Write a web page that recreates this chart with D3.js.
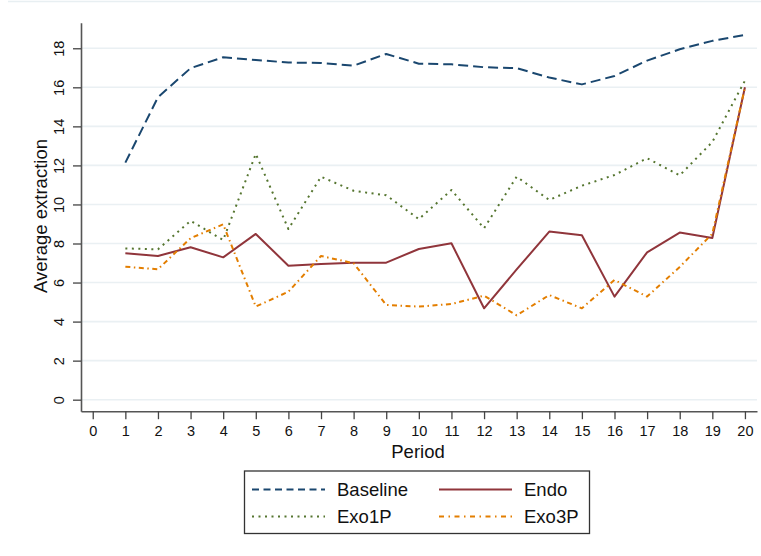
<!DOCTYPE html>
<html>
<head>
<meta charset="utf-8">
<script src="https://cdn.jsdelivr.net/npm/d3@7"></script>
<style>
  html, body { margin: 0; padding: 0; background: #fff; }
  svg { display: block; font-family: "Liberation Sans", Arial, sans-serif; }
</style>
</head>
<body>
<svg id="chart" width="761" height="556"></svg>
<script>
const periods = [1,2,3,4,5,6,7,8,9,10,11,12,13,14,15,16,17,18,19,20];
const baseline = [12.14, 15.49, 16.98, 17.54, 17.40, 17.27, 17.25, 17.11, 17.71, 17.21, 17.18, 17.03, 16.98, 16.50, 16.15, 16.58, 17.37, 17.95, 18.38, 18.68];
const endo     = [7.50, 7.36, 7.81, 7.29, 8.49, 6.86, 6.95, 7.02, 7.02, 7.72, 8.01, 4.68, 6.67, 8.61, 8.42, 5.28, 7.55, 8.56, 8.28, 16.00];
const exo1p    = [7.75, 7.70, 9.16, 8.18, 12.59, 8.74, 11.42, 10.70, 10.47, 9.25, 10.74, 8.78, 11.42, 10.23, 10.96, 11.51, 12.37, 11.49, 13.20, 16.34];
const exo3p    = [6.81, 6.68, 8.27, 8.98, 4.77, 5.53, 7.36, 6.99, 4.85, 4.77, 4.90, 5.33, 4.32, 5.36, 4.68, 6.13, 5.28, 6.80, 8.50, 16.00];
const xTicks = [0,1,2,3,4,5,6,7,8,9,10,11,12,13,14,15,16,17,18,19,20];
const yTicks = [0,2,4,6,8,10,12,14,16,18];
const seriesNames = ["Baseline", "Endo", "Exo1P", "Exo3P"];

const seriesStyle = {
  "Baseline": {color: "#1a476f", dash: "10,5", legendDash: "7,4.5"},
  "Endo":     {color: "#90353b", dash: null, legendDash: null},
  "Exo1P":    {color: "#55752f", dash: "2,4.5", legendDash: "2,4.5"},
  "Exo3P":    {color: "#e37e00", dash: "5,3.5,1.5,3.5", legendDash: "5,4.5,1.5,4.5"}
};
const dataBySeries = {"Baseline": baseline, "Endo": endo, "Exo1P": exo1p, "Exo3P": exo3p};

const svg = d3.select("#chart");
const L = 81, R = 757, T = 22.7, B = 411.2;

const x = d3.scaleLinear().domain([-0.36, 20.37]).range([L, R]);
const y = d3.scaleLinear().domain([-0.59, 19.31]).range([B, T]);

// faint top border line
svg.append("line").attr("x1", 8).attr("x2", 761).attr("y1", 1.5).attr("y2", 1.5)
  .attr("stroke", "#e8eff2").attr("stroke-width", 1.5);

// gridlines
svg.append("g").selectAll("line").data(yTicks).join("line")
  .attr("x1", L).attr("x2", R)
  .attr("y1", d => y(d)).attr("y2", d => y(d))
  .attr("stroke", "#eaf0f3").attr("stroke-width", 1.6);

// y axis
const yAxis = svg.append("g").attr("transform", `translate(${L},0)`)
  .call(d3.axisLeft(y).tickValues(yTicks).tickSize(8).tickPadding(8).tickSizeOuter(0));
yAxis.select(".domain").attr("stroke", "#555").attr("stroke-width", 1.6);
yAxis.selectAll(".tick line").attr("stroke", "#444").attr("stroke-width", 1.3);
yAxis.selectAll(".tick text")
  .attr("font-size", 14.5).attr("fill", "#111")
  .attr("font-family", '"Liberation Sans", Arial, sans-serif')
  .attr("text-anchor", "middle").attr("dy", null).attr("x", null)
  .attr("transform", "translate(-21.7,0) rotate(-90)")
  .attr("dominant-baseline", "central");

// x axis
const xAxis = svg.append("g").attr("transform", `translate(0,${B})`)
  .call(d3.axisBottom(x).tickValues(xTicks).tickSize(8).tickPadding(7).tickSizeOuter(0));
xAxis.select(".domain").attr("stroke", "#555").attr("stroke-width", 1.6);
xAxis.selectAll(".tick line").attr("stroke", "#444").attr("stroke-width", 1.3);
xAxis.selectAll(".tick text")
  .attr("font-size", 14.5).attr("fill", "#111")
  .attr("font-family", '"Liberation Sans", Arial, sans-serif');

// axis titles
svg.append("text").attr("x", 418).attr("y", 451).attr("text-anchor", "middle")
  .attr("dominant-baseline", "central").attr("font-size", 18.5).attr("fill", "#111")
  .text("Period");
svg.append("text").attr("transform", "translate(40,216) rotate(-90)")
  .attr("text-anchor", "middle").attr("dominant-baseline", "central")
  .attr("font-size", 18.5).attr("fill", "#111")
  .text("Average extraction");

// lines
const line = d3.line().x(d => x(d[0])).y(d => y(d[1]));
seriesNames.forEach(name => {
  const st = seriesStyle[name];
  const pts = periods.map((p, i) => [p, dataBySeries[name][i]]);
  svg.append("path").datum(pts)
    .attr("d", line)
    .attr("fill", "none")
    .attr("stroke", st.color)
    .attr("stroke-width", 2)
    .attr("stroke-linejoin", "round")
    .attr("stroke-dasharray", st.dash);
});

// legend
const lg = svg.append("g");
lg.append("rect").attr("x", 244.5).attr("y", 471).attr("width", 345).attr("height", 62.5)
  .attr("fill", "#fff").attr("stroke", "#333").attr("stroke-width", 1.3);
const legendPos = [
  {name: "Baseline", lx: 252, ty: 489.5},
  {name: "Endo", lx: 439, ty: 489.5},
  {name: "Exo1P", lx: 252, ty: 516.5},
  {name: "Exo3P", lx: 439, ty: 516.5}
];
legendPos.forEach(p => {
  const st = seriesStyle[p.name];
  lg.append("line").attr("x1", p.lx).attr("x2", p.lx + 73).attr("y1", p.ty).attr("y2", p.ty)
    .attr("stroke", st.color).attr("stroke-width", 2)
    .attr("stroke-dasharray", st.legendDash);
  lg.append("text").attr("x", p.lx + 85).attr("y", p.ty)
    .attr("dominant-baseline", "central").attr("font-size", 18.5).attr("fill", "#111")
    .text(p.name);
});
</script>
</body>
</html>
